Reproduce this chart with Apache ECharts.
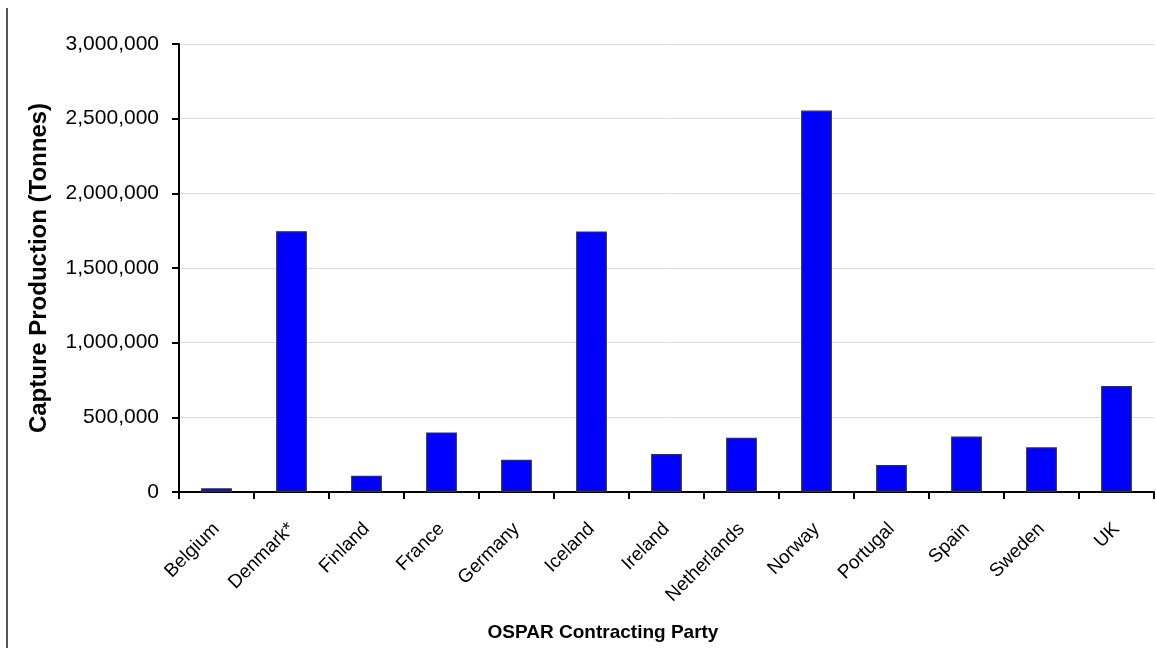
<!DOCTYPE html>
<html>
<head>
<meta charset="utf-8">
<script src="https://cdn.jsdelivr.net/npm/echarts@6/dist/echarts.min.js"></script>
<style>
html,body{margin:0;padding:0;background:#fff;}
#c{width:1156px;height:648px;}
</style>
</head>
<body>
<div id="c"></div>
<script>
var categories = ['Belgium','Denmark*','Finland','France','Germany','Iceland','Ireland','Netherlands','Norway','Portugal','Spain','Sweden','UK'];
var production = [25000, 1746000, 109000, 399000, 216000, 1745000, 254000, 363000, 2554000, 180000, 372000, 299000, 709000];
var yTicks = {min: 0, max: 3000000, interval: 500000};
var xTitle = 'OSPAR Contracting Party';
var yTitle = 'Capture Production (Tonnes)';

var FONT = 'Liberation Sans, Arial, sans-serif';
var chart = echarts.init(document.getElementById('c'));
chart.setOption({
  animation: false,
  backgroundColor: '#ffffff',
  textStyle: {fontFamily: FONT},
  grid: {left: 179, right: 2, top: 44, bottom: 156},
  graphic: [{
    type: 'line',
    shape: {x1: 7, y1: 8, x2: 7, y2: 648},
    style: {stroke: '#555555', lineWidth: 2}
  }, {
    type: 'text',
    x: 603, y: 633,
    style: {text: xTitle, font: 'bold 19px ' + FONT, fill: '#000', textAlign: 'center', textVerticalAlign: 'middle'}
  }],
  xAxis: {
    type: 'category',
    data: categories,
    axisLine: {lineStyle: {color: '#000', width: 2}},
    axisTick: {show: true, alignWithLabel: false, length: 7, lineStyle: {color: '#000', width: 2}},
    axisLabel: {rotate: 45, fontSize: 19, color: '#000', margin: 34, interval: 0},
    splitLine: {show: false}
  },
  yAxis: {
    type: 'value',
    min: yTicks.min,
    max: yTicks.max,
    interval: yTicks.interval,
    name: yTitle,
    nameLocation: 'middle',
    nameGap: 128,
    nameTextStyle: {fontSize: 24, fontWeight: 'bold', color: '#000', fontFamily: FONT},
    axisLine: {show: true, lineStyle: {color: '#000', width: 2}},
    axisTick: {show: true, length: 7, lineStyle: {color: '#000', width: 2}},
    axisLabel: {
      fontSize: 21, color: '#000', margin: 20,
      formatter: function (v) { return v.toLocaleString('en-US'); }
    },
    splitLine: {show: true, lineStyle: {color: '#dddddd', width: 1}}
  },
  series: [{
    type: 'bar',
    data: production,
    barWidth: '41%',
    itemStyle: {color: '#0000ff', borderColor: '#333333', borderWidth: 1.2}
  }]
});
</script>
</body>
</html>
